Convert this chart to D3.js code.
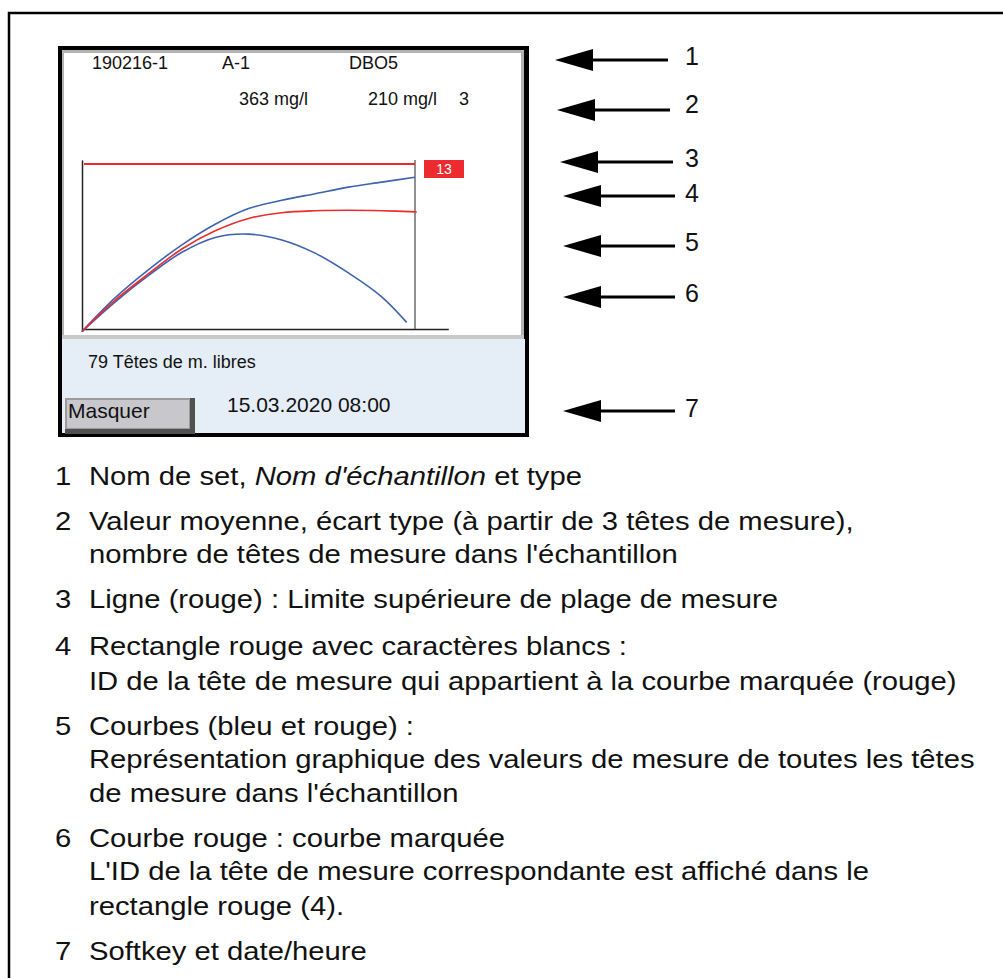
<!DOCTYPE html>
<html>
<head>
<meta charset="utf-8">
<script src="https://cdn.jsdelivr.net/npm/d3@7"></script>
<style>
  body { margin: 0; background: #fff; }
  svg { display: block; }
  text { font-family: "Liberation Sans", Arial, sans-serif; fill: #111; }
</style>
</head>
<body>
<svg id="canvas" width="1003" height="978"></svg>
<script>
// display header rows
let headerRow1 = ['190216-1', 'A-1', 'DBO5'];
let headerRow2 = ['363 mg/l', '210 mg/l', '3'];
let freeHeads = '79 Têtes de m. libres';
let softkey = 'Masquer';
let dateTime = '15.03.2020 08:00';
let markedId = '13';

// curves: time in % of run, value in % of the range limit
let timeSteps = [0, 10, 20, 30, 40, 50, 60, 70, 80, 90, 100];
let curveUpper = [-1.5, 19, 36, 51, 63.5, 73, 78, 82, 86, 89, 92];
let timeMarked = [0, 10, 20, 30, 40, 50, 60, 70, 80, 90, 100.5];
let curveMarked = [-1.5, 17.5, 33.5, 48.5, 59.5, 67, 70.5, 71.7, 72, 71.7, 71];
let timeLower = [0, 10, 20, 30, 40, 50, 60, 70, 80, 90, 97.5];
let curveLower = [-1.5, 16.5, 32.5, 46.5, 55.5, 57.5, 54, 46, 34, 19.5, 4];
let rangeLimit = 100;

// callouts and legend
let calloutNumbers = ['1', '2', '3', '4', '5', '6', '7'];
let legendNumbers = ['1', '2', '3', '4', '5', '6', '7'];
let legendLines = [
  [[['Nom de set, ', false], ["Nom d'échantillon", true], [' et type', false]]],
  [[['Valeur moyenne, écart type (à partir de 3 têtes de mesure),', false]],
   [["nombre de têtes de mesure dans l'échantillon", false]]],
  [[['Ligne (rouge) : Limite supérieure de plage de mesure', false]]],
  [[['Rectangle rouge avec caractères blancs :', false]],
   [['ID de la tête de mesure qui appartient à la courbe marquée (rouge)', false]]],
  [[['Courbes (bleu et rouge) :', false]],
   [['Représentation graphique des valeurs de mesure de toutes les têtes', false]],
   [["de mesure dans l'échantillon", false]]],
  [[['Courbe rouge : courbe marquée', false]],
   [["L'ID de la tête de mesure correspondante est affiché dans le", false]],
   [['rectangle rouge (4).', false]]],
  [[['Softkey et date/heure', false]]]
];

let blue = '#3d63ad';
let red = '#ec2a2f';

let svg = d3.select('#canvas');

// outer frame (cut by the page edge on the right and bottom)
svg.append('rect')
  .attr('x', 9).attr('y', 13).attr('width', 1010).attr('height', 1000)
  .attr('fill', 'none').attr('stroke', '#000').attr('stroke-width', 2.5);

// ---- the instrument screen ----
let screen = svg.append('g');
screen.append('rect').attr('x', 58).attr('y', 46).attr('width', 471).attr('height', 391).attr('fill', '#000');
screen.append('rect').attr('x', 62).attr('y', 50).attr('width', 462).attr('height', 383).attr('fill', '#b3b3b3');
screen.append('rect').attr('x', 64).attr('y', 53).attr('width', 457).attr('height', 282).attr('fill', '#fff');
screen.append('rect').attr('x', 62).attr('y', 339).attr('width', 463).attr('height', 94).attr('fill', '#e5edf6');

let headerX1 = [92, 222, 349];
let headerX2 = [239, 368, 459];
screen.selectAll('.h1').data(headerRow1).enter().append('text')
  .attr('x', (d, i) => headerX1[i]).attr('y', 69)
  .attr('font-size', 18).text(d => d);
screen.selectAll('.h2').data(headerRow2).enter().append('text')
  .attr('x', (d, i) => headerX2[i]).attr('y', 105)
  .attr('font-size', 18).text(d => d);

// chart inside the screen
let x = d3.scaleLinear().domain([0, 100]).range([82, 415]);
let y = d3.scaleLinear().domain([0, rangeLimit]).range([329, 164]);

let line = d3.line()
  .x(d => x(d[0]))
  .y(d => y(d[1]))
  .curve(d3.curveCatmullRom);

// x axis (domain line only)
let xAxisScale = x.copy().domain([0, 110]).range([x(0), x(110)]);
screen.append('g')
  .attr('transform', 'translate(0,' + y(0) + ')')
  .call(d3.axisBottom(xAxisScale).ticks(0).tickSizeOuter(0))
  .select('.domain').attr('stroke', '#222').attr('stroke-width', 1.5);

// y axis (domain line only)
let yAxisScale = y.copy().domain([-1.5, 102.5]).range([y(-1.5), y(102.5)]);
screen.append('g')
  .attr('transform', 'translate(' + x(0) + ',0)')
  .call(d3.axisLeft(yAxisScale).ticks(0).tickSizeOuter(0))
  .select('.domain').attr('stroke', '#222').attr('stroke-width', 1.5);

// end-of-run marker
screen.append('line')
  .attr('x1', x(100)).attr('x2', x(100))
  .attr('y1', y(0)).attr('y2', y(102.5))
  .attr('stroke', '#555').attr('stroke-width', 1.3);

// upper range limit
screen.append('line')
  .attr('x1', x(0) + 2).attr('x2', x(100))
  .attr('y1', y(rangeLimit)).attr('y2', y(rangeLimit))
  .attr('stroke', red).attr('stroke-width', 2);

let series = [
  { t: timeSteps, v: curveUpper, color: blue },
  { t: timeLower, v: curveLower, color: blue },
  { t: timeMarked, v: curveMarked, color: red }
];
screen.selectAll('.curve').data(series).enter().append('path')
  .attr('class', 'curve')
  .attr('d', s => line(s.t.map((t, i) => [t, s.v[i]])))
  .attr('fill', 'none')
  .attr('stroke', s => s.color)
  .attr('stroke-width', 1.6);

// marked head id
screen.append('rect')
  .attr('x', x(100) + 9).attr('y', y(rangeLimit) - 4)
  .attr('width', 40).attr('height', 18).attr('fill', red);
screen.append('text')
  .attr('x', x(100) + 29).attr('y', y(rangeLimit) + 10)
  .attr('text-anchor', 'middle').attr('font-size', 14)
  .style('fill', '#fff').text(markedId);

// bottom status area
screen.append('rect').attr('x', 62).attr('y', 335).attr('width', 462).attr('height', 4).attr('fill', '#c9c9c9');
screen.append('text').attr('x', 88).attr('y', 368).attr('font-size', 18).text(freeHeads);

// softkey button
screen.append('rect').attr('x', 65).attr('y', 398).attr('width', 130).attr('height', 36).attr('fill', '#505050');
screen.append('rect').attr('x', 65).attr('y', 398).attr('width', 125).attr('height', 31).attr('fill', '#9b9b9b');
screen.append('rect').attr('x', 67).attr('y', 400).attr('width', 122).attr('height', 28).attr('fill', '#c8c7cc');
screen.append('text').attr('x', 68).attr('y', 418).attr('font-size', 21).text(softkey);
screen.append('text').attr('x', 227).attr('y', 412).attr('font-size', 21).text(dateTime);

// ---- callout arrows ----
let arrowY = [60, 110, 162, 196, 246, 297, 411];
let arrowTip = [555, 557, 560, 563, 563, 563, 563];
let arrowEnd = [668, 670, 673, 675, 675, 675, 675];
let labelBaseline = [65, 113, 167, 202, 251, 302, 417];

let arrows = svg.selectAll('.arrow').data(calloutNumbers).enter().append('g').attr('class', 'arrow');
arrows.append('line')
  .attr('x1', (d, i) => arrowTip[i] + 30).attr('x2', (d, i) => arrowEnd[i])
  .attr('y1', (d, i) => arrowY[i]).attr('y2', (d, i) => arrowY[i])
  .attr('stroke', '#000').attr('stroke-width', 3);
arrows.append('path')
  .attr('d', (d, i) => {
    let tx = arrowTip[i], ty = arrowY[i];
    return 'M' + tx + ',' + ty + 'L' + (tx + 38) + ',' + (ty - 11) + 'L' + (tx + 38) + ',' + (ty + 11) + 'Z';
  })
  .attr('fill', '#000');
arrows.append('text')
  .attr('x', 685).attr('y', (d, i) => labelBaseline[i])
  .attr('font-size', 25).text(d => d);

// ---- legend ----
let legendBaselines = [
  [485], [530, 563], [608], [655, 690], [735, 768, 802], [847, 880, 915], [960]
];
let stretch = 1.17;
let legend = svg.append('g');
legendNumbers.forEach((num, i) => {
  legend.append('text')
    .attr('transform', 'translate(55,' + legendBaselines[i][0] + ') scale(' + stretch + ',1)')
    .attr('font-size', 25).text(num);
  legendLines[i].forEach((segs, j) => {
    let t = legend.append('text')
      .attr('transform', 'translate(89,' + legendBaselines[i][j] + ') scale(' + stretch + ',1)')
      .attr('font-size', 25);
    segs.forEach(s => {
      t.append('tspan').attr('font-style', s[1] ? 'italic' : 'normal').text(s[0]);
    });
  });
});
</script>
</body>
</html>
